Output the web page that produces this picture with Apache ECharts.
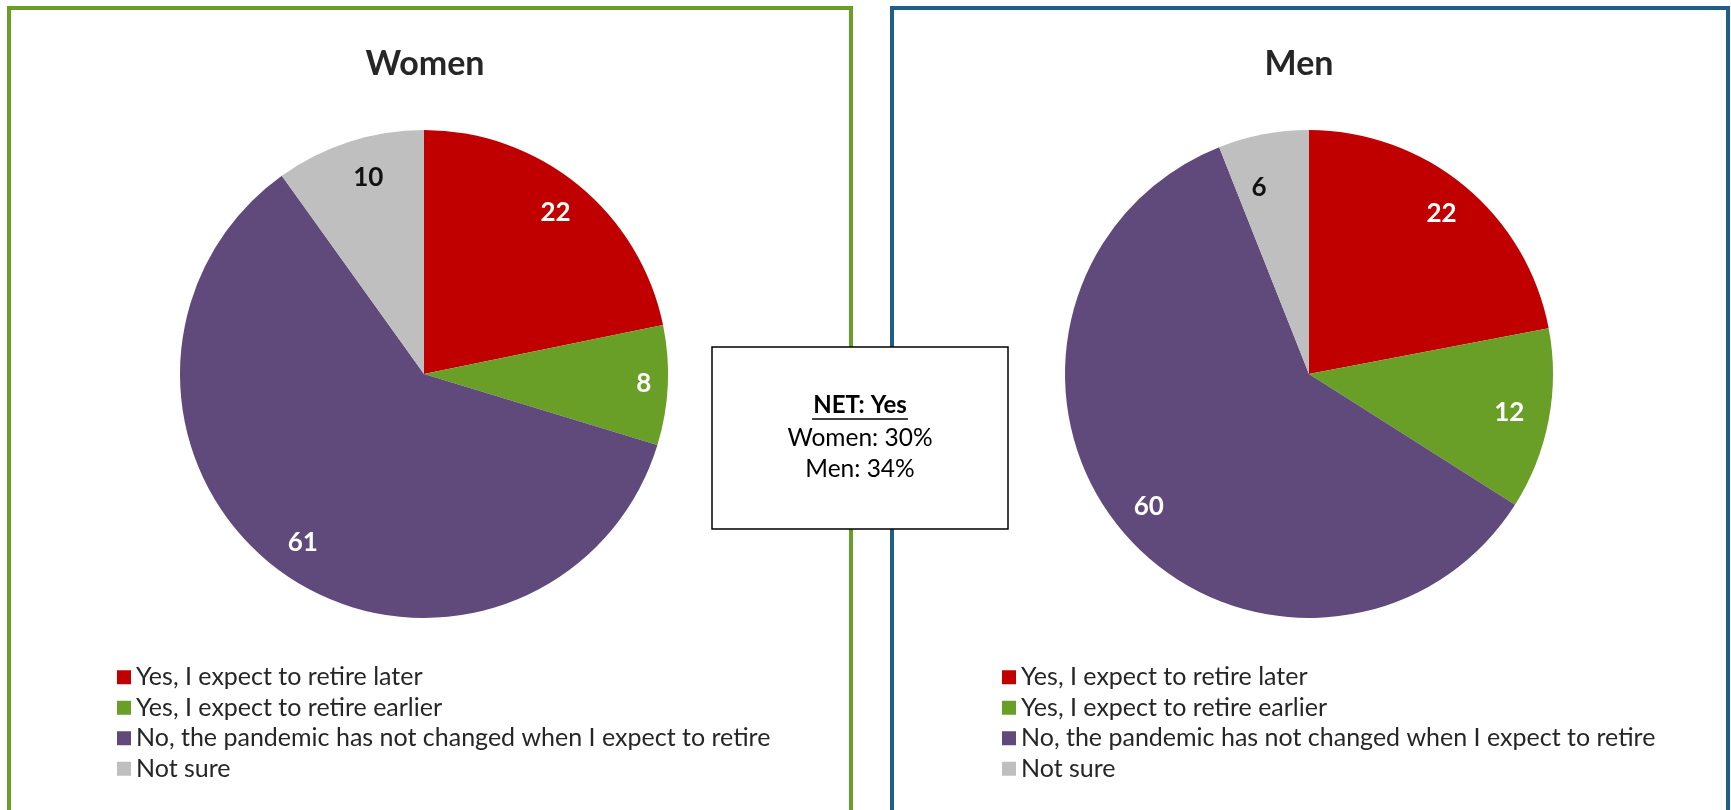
<!DOCTYPE html>
<html>
<head>
<meta charset="utf-8">
<script src="https://cdn.jsdelivr.net/npm/echarts@6/dist/echarts.min.js"></script>
<style>
html,body{margin:0;padding:0;background:#fff;}
#chart{width:1731px;height:810px;}
</style>
</head>
<body>
<div id="chart"></div>
<script>
const categories = [
  'Yes, I expect to retire later',
  'Yes, I expect to retire earlier',
  'No, the pandemic has not changed when I expect to retire',
  'Not sure'
];
const womenValues = [22, 8, 61, 10];
const menValues = [22, 12, 60, 6];
const panelTitles = ['Women', 'Men'];
const netTitle = 'NET: Yes';
const netLines = ['Women: 30%', 'Men: 34%'];

const colors = ['#C00000', '#6A9F27', '#604A7B', '#BFBFBF'];
const labelColors = ['#ffffff', '#ffffff', '#ffffff', '#111111'];
const FONT = 'Lato, "Open Sans", sans-serif';

const R = 244;
const labelFrac = 0.84;
// small label nudges (Excel "best fit" placement)
const womenNudge = [[0, 0], [12, 0], [0, 0], [8, 2]];
const menNudge = [[0, 0], [-4, 0], [0, 0], [-11, 18]];

function pieData(vals, transparent, nudge) {
  return vals.map((v, i) => ({
    name: categories[i],
    value: v,
    itemStyle: transparent ? { color: 'rgba(0,0,0,0)' } : { color: colors[i] },
    label: {
      color: labelColors[i],
      fontWeight: 'bold',
      offset: nudge ? nudge[i] : [0, 0]
    }
  }));
}

function pieSeries(vals, center, nudge) {
  return [
    {
      type: 'pie',
      center: center,
      radius: [0, R],
      startAngle: 90,
      clockwise: true,
      silent: true,
      animation: false,
      label: { show: false },
      labelLine: { show: false },
      itemStyle: { borderWidth: 0 },
      emphasis: { disabled: true },
      data: pieData(vals, false)
    },
    {
      type: 'pie',
      center: center,
      radius: [0, R * labelFrac * 2],
      startAngle: 90,
      clockwise: true,
      silent: true,
      animation: false,
      label: {
        show: true,
        position: 'inside',
        formatter: '{c}',
        fontFamily: FONT,
        fontWeight: 'bold',
        fontSize: 26
      },
      labelLine: { show: false },
      emphasis: { disabled: true },
      data: pieData(vals, true, nudge)
    }
  ];
}

function legendFor(left) {
  return {
    orient: 'vertical',
    left: left,
    top: 662,
    padding: 0,
    icon: 'rect',
    itemWidth: 14,
    itemHeight: 14,
    itemGap: 0,
    selectedMode: false,
    data: categories.map((c, i) => ({ name: c, itemStyle: { color: colors[i], opacity: 1 } })),
    textStyle: {
      fontFamily: FONT,
      fontSize: 25,
      color: '#262626',
      lineHeight: 30.5,
      padding: [0, 0, 0, 0]
    }
  };
}

const chart = echarts.init(document.getElementById('chart'), null, { renderer: 'canvas' });

const option = {
  backgroundColor: '#ffffff',
  animation: false,
  title: [
    {
      text: panelTitles[0], left: 420, top: 59, textAlign: 'center', textVerticalAlign: 'middle',
      textStyle: { fontFamily: FONT, fontWeight: 'bold', fontSize: 34, color: '#262626' }
    },
    {
      text: panelTitles[1], left: 1294, top: 59, textAlign: 'center', textVerticalAlign: 'middle',
      textStyle: { fontFamily: FONT, fontWeight: 'bold', fontSize: 34, color: '#262626' }
    }
  ],
  legend: [legendFor(117), legendFor(1002)],
  series: [].concat(pieSeries(womenValues, [424, 374], womenNudge), pieSeries(menValues, [1309, 374], menNudge)),
  graphic: [
    {
      type: 'rect', z: 1, silent: true,
      shape: { x: 9, y: 8, width: 842, height: 840 },
      style: { fill: 'none', stroke: '#6A9F27', lineWidth: 4 }
    },
    {
      type: 'rect', z: 1, silent: true,
      shape: { x: 892, y: 8, width: 836, height: 840 },
      style: { fill: 'none', stroke: '#215E87', lineWidth: 4 }
    },
    {
      type: 'rect', z: 10, silent: true,
      shape: { x: 712, y: 347, width: 296, height: 182 },
      style: { fill: '#ffffff', stroke: '#000000', lineWidth: 1.5 }
    },
    {
      type: 'text', z: 11, silent: true,
      x: 860, y: 405,
      style: {
        text: netTitle, fontFamily: FONT, fontWeight: 'bold', fontSize: 24,
        fill: '#000000', align: 'center', verticalAlign: 'middle'
      }
    },
    {
      type: 'line', z: 11, silent: true,
      shape: { x1: 812, y1: 419, x2: 908, y2: 419 },
      style: { stroke: '#000000', lineWidth: 1.5 }
    },
    {
      type: 'text', z: 11, silent: true,
      x: 860, y: 438,
      style: {
        text: netLines[0], fontFamily: FONT, fontSize: 24.5,
        fill: '#000000', align: 'center', verticalAlign: 'middle'
      }
    },
    {
      type: 'text', z: 11, silent: true,
      x: 860, y: 469,
      style: {
        text: netLines[1], fontFamily: FONT, fontSize: 24.5,
        fill: '#000000', align: 'center', verticalAlign: 'middle'
      }
    }
  ]
};

chart.setOption(option);
</script>
</body>
</html>
